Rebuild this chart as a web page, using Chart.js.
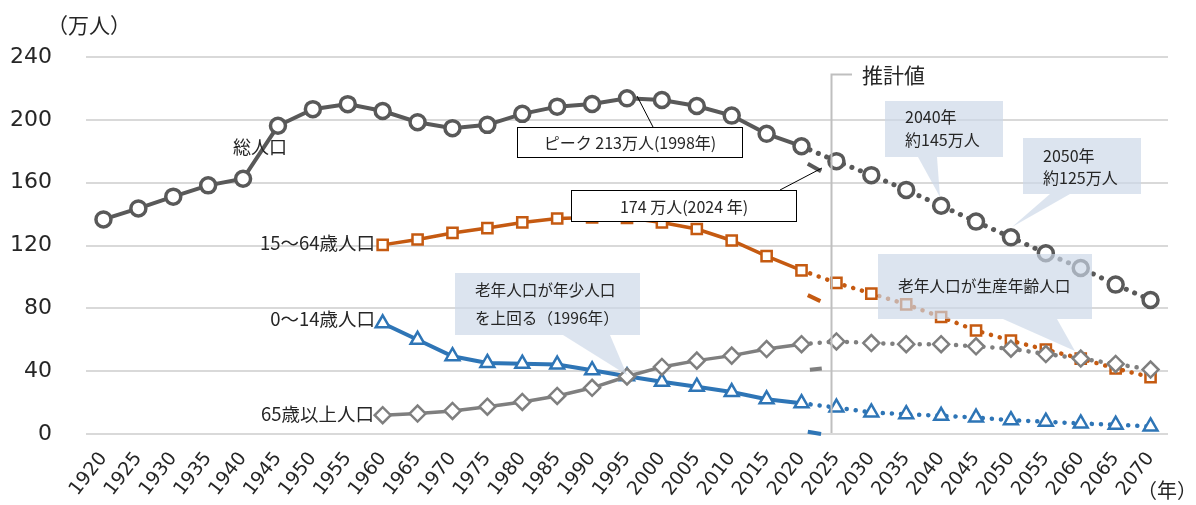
<!DOCTYPE html>
<html><head><meta charset="utf-8">
<script src="https://cdn.jsdelivr.net/npm/chart.js@4"></script>
<style>html,body{margin:0;padding:0;background:#fff}#wrap{width:1196px;height:505px}</style>
</head><body><div id="wrap"><canvas id="c" width="1196" height="505"></canvas></div>
<script>
const years = [1920,1925,1930,1935,1940,1945,1950,1955,1960,1965,1970,1975,1980,1985,1990,1995,2000,2005,2010,2015,2020,2025,2030,2035,2040,2045,2050,2055,2060,2065,2070];
const total = [136.6,143.6,151.1,158.3,162.5,196.2,206.8,210,205.6,198.5,194.7,196.8,203.8,208.4,210.1,213.7,212.6,208.8,202.7,191.1,183.2,173.7,164.8,155.4,145.3,135.2,125.2,115.1,105.7,95.1,85.3];
const working = [null,null,null,null,null,null,null,null,120.4,123.8,128,131.1,134.7,137.2,137.9,137.6,134.7,130.5,123.2,113.2,104.2,96.2,89.4,82.5,74.5,65.9,59.4,53.7,48,41.7,36.2];
const youth = [null,null,null,null,null,null,null,null,70.5,60,49.5,45.2,44.8,44.2,40.6,36.8,33.2,30.1,26.7,22.1,19.6,16.8,13.7,12.6,11.6,10.5,8.8,7.8,6.7,5.9,4.8];
const elderly = [null,null,null,null,null,null,null,null,12,13,14.7,17.4,20.4,24.2,29.4,36.6,42.7,46.7,49.9,54.1,57.2,58.9,57.9,57.2,57.2,55.8,54.3,50.9,48,44.6,41];
const yTicks = [0,40,80,120,160,200,240];
const projStart = 2020;
// short stray line pieces near 2022
const strayTotal = [[2020.9,172],[2022.8,167.2]];
const strayWorking = [[2020.9,88.4],[2022.7,84.6]];
const strayElderly = [[2021.2,40.9],[2022.9,41.7]];
const strayYouth = [[2020.9,1.4],[2022.8,0]];

const JP = '"Noto Sans CJK JP", sans-serif';
const TXT = '#262626';

function series(label, arr, color, style, r, lw, pbw, dotW){
  return {
    label,
    data: years.map((y,i)=>({x:y, y:arr[i]})).filter(p=>p.y!==null),
    borderColor: color, backgroundColor: '#fff', borderWidth: lw,
    pointStyle: style, pointRadius: r, pointHoverRadius: r,
    pointBorderWidth: pbw, pointBackgroundColor: '#fff', pointBorderColor: color,
    borderCapStyle: 'round', tension: 0, clip: false,
    segment: {
      borderDash: c => (c.p0.parsed.x >= projStart ? [0.1, 9] : undefined),
      borderWidth: c => (c.p0.parsed.x >= projStart ? dotW : undefined)
    }
  };
}
function stray(arr, color){
  return { data: arr.map(p=>({x:p[0], y:p[1]})), borderColor: color, borderWidth: 4,
    pointRadius: 0, borderCapStyle: 'butt', clip: false };
}

function callout(ctx, box, tail){
  ctx.beginPath();
  const [x1,y1,x2,y2] = box;
  const [bx1,bx2,tx,ty] = tail;
  ctx.moveTo(x1,y1); ctx.lineTo(x2,y1); ctx.lineTo(x2,y2);
  ctx.lineTo(bx2,y2); ctx.lineTo(tx,ty); ctx.lineTo(bx1,y2);
  ctx.lineTo(x1,y2); ctx.closePath();
  ctx.fillStyle = 'rgba(203,215,231,0.67)';
  ctx.fill();
}
function txt(ctx, s, x, y, size, align){
  ctx.font = size + 'px ' + JP; ctx.fillStyle = TXT;
  ctx.textAlign = align || 'left'; ctx.textBaseline = 'middle';
  ctx.fillText(s, x, y);
}

const annot = {
  id: 'annot',
  afterDatasetsDraw(chart){
    const ctx = chart.ctx; ctx.save();
    // projection separator
    ctx.strokeStyle = '#bfbfbf'; ctx.lineWidth = 2;
    ctx.beginPath(); ctx.moveTo(852,74.5); ctx.lineTo(831.5,74.5); ctx.lineTo(831.5,433); ctx.stroke();
    txt(ctx, '推計値', 862, 75, 21);
    // white boxes
    ctx.strokeStyle = '#000'; ctx.lineWidth = 1;
    ctx.beginPath(); ctx.moveTo(653,127); ctx.lineTo(637,96); ctx.stroke();
    ctx.beginPath(); ctx.moveTo(780,190); ctx.lineTo(822,168); ctx.stroke();
    ctx.fillStyle = '#fff';
    ctx.fillRect(517.5,127.5,225,30); ctx.strokeRect(517.5,127.5,225,30);
    ctx.fillRect(571.5,190.5,225,31); ctx.strokeRect(571.5,190.5,225,31);
    txt(ctx, 'ピーク 213万人(1998年)', 630, 143, 16, 'center');
    txt(ctx, '174 万人(2024 年)', 684, 206.5, 16, 'center');
    // callouts
    callout(ctx, [885,101,1003,157], [918,937,940,197]);
    txt(ctx, '2040年', 905, 117, 16); txt(ctx, '約145万人', 905, 140, 16);
    callout(ctx, [1023,138,1141,194], [1050,1070,1012,227]);
    txt(ctx, '2050年', 1043, 156, 16); txt(ctx, '約125万人', 1043, 178, 16);
    callout(ctx, [878,254,1092,319], [1003,1057,1075,351]);
    txt(ctx, '老年人口が生産年齢人口', 898, 286, 15.7);
    callout(ctx, [455,273,640,335], [563,610,627,375]);
    txt(ctx, '老年人口が年少人口', 475, 290, 15.6);
    txt(ctx, 'を上回る（1996年）', 475, 318, 15.6);
    // series labels
    txt(ctx, '総人口', 260, 147, 18, 'center');
    txt(ctx, '15～64歳人口', 375, 243, 18.5, 'right');
    txt(ctx, '0～14歳人口', 375, 319, 18.5, 'right');
    txt(ctx, '65歳以上人口', 374, 414, 18.5, 'right');
    // units
    txt(ctx, '（万人）', 47, 25, 21);
    txt(ctx, '（年）', 1137, 490, 20);
    ctx.restore();
  }
};

new Chart(document.getElementById('c'), {
  type: 'line',
  data: { datasets: [
    series('65歳以上人口', elderly, '#7f7f7f', 'rectRot', 8, 3.5, 2.5, 4.5),
    series('0～14歳人口', youth, '#2e75b6', 'triangle', 8, 4, 2.5, 4.5),
    series('15～64歳人口', working, '#c55a11', 'rect', 7.2, 3.5, 2.5, 4.5),
    series('総人口', total, '#595959', 'circle', 7.5, 4, 3.5, 5),
    stray(strayTotal, '#595959'), stray(strayWorking, '#c55a11'),
    stray(strayElderly, '#7f7f7f'), stray(strayYouth, '#2e75b6')
  ]},
  options: {
    responsive: false, animation: false, events: [],
    layout: { padding: { left: 0, right: 28, top: 57, bottom: 0 } },
    plugins: { legend: { display: false }, tooltip: { enabled: false } },
    scales: {
      x: {
        type: 'linear', min: 1917.5, max: 2072.5,
        afterBuildTicks: s => { s.ticks = years.map(v => ({ value: v })); },
        afterFit: s => { s.height = 71; },
        grid: { display: false }, border: { display: false },
        ticks: { autoSkip: false, minRotation: 52, maxRotation: 52, padding: 6,
          color: TXT, font: { family: '"DejaVu Sans"', size: 19 }, callback: v => String(v) }
      },
      y: {
        min: 0, max: 240,
        afterBuildTicks: s => { s.ticks = yTicks.map(v => ({ value: v })); },
        afterFit: s => { s.width = 86; },
        grid: { color: '#d9d9d9', lineWidth: 2, drawTicks: false }, border: { display: false },
        ticks: { padding: 34, color: TXT, font: { family: '"DejaVu Sans"', size: 22 } }
      }
    }
  },
  plugins: [annot]
});
</script></body></html>
